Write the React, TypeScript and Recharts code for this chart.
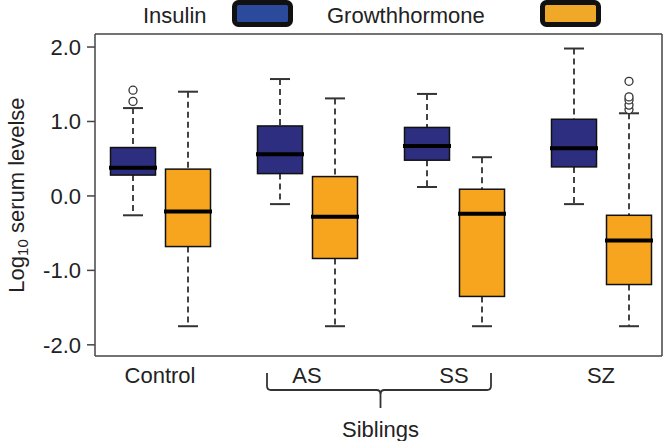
import { ComposedChart, Bar, XAxis, YAxis, Legend } from "recharts"

// groups on the x axis
const groups = ["Control", "AS", "SS", "SZ"]

// Insulin, log10 serum level: whiskers, quartiles, median, outliers
const insulinMin = [-0.26, -0.11, 0.12, -0.11]
const insulinQ1 = [0.28, 0.3, 0.48, 0.39]
const insulinMedian = [0.38, 0.56, 0.67, 0.64]
const insulinQ3 = [0.65, 0.94, 0.92, 1.03]
const insulinMax = [1.18, 1.57, 1.37, 1.98]
const insulinOutliers = [[1.27, 1.42], [], [], []]

// Growth hormone
const ghMin = [-1.75, -1.75, -1.75, -1.75]
const ghQ1 = [-0.68, -0.84, -1.35, -1.19]
const ghMedian = [-0.21, -0.28, -0.24, -0.6]
const ghQ3 = [0.36, 0.26, 0.09, -0.26]
const ghMax = [1.4, 1.31, 0.52, 1.11]
const ghOutliers = [[], [], [], [1.16, 1.22, 1.29, 1.33, 1.54]]

const yTicks = [-2, -1, 0, 1, 2]

const INSULIN = "#2d2e80"
const GH = "#f7a51f"
const FONT = "'Liberation Sans', Arial, Helvetica, sans-serif"

const W = 667
const H = 441
const PLOT_W = 567
const PAD_L = -8.5
const PAD_R = -12.5
const BAND = (PLOT_W - PAD_L - PAD_R) / groups.length

const data = groups.map((group, i) => ({
  group,
  insulin: [insulinMin[i], insulinMax[i]],
  insulinBox: { min: insulinMin[i], q1: insulinQ1[i], median: insulinMedian[i], q3: insulinQ3[i], max: insulinMax[i], outliers: insulinOutliers[i] },
  gh: [ghMin[i], ghMax[i]],
  ghBox: { min: ghMin[i], q1: ghQ1[i], median: ghMedian[i], q3: ghQ3[i], max: ghMax[i], outliers: ghOutliers[i] },
}))

// the bar spans min..max, so its y/height give the scale for the rest of the box
const makeBoxShape = (key: "insulinBox" | "ghBox", fill: string) => (props: any) => {
  const { x, y, width, height, payload } = props
  const b = payload[key]
  const top = Math.min(y, y + height)
  const bottom = Math.max(y, y + height)
  const toY = (v: number) => top + ((b.max - v) / (b.max - b.min)) * (bottom - top)
  const cx = x + width / 2
  const cap = 10
  return (
    <g>
      <line x1={cx} x2={cx} y1={toY(b.max)} y2={toY(b.q3)} stroke="#444" strokeWidth={2} strokeDasharray="6 4" />
      <line x1={cx} x2={cx} y1={toY(b.q1)} y2={toY(b.min)} stroke="#444" strokeWidth={2} strokeDasharray="6 4" />
      <line x1={cx - cap} x2={cx + cap} y1={toY(b.max)} y2={toY(b.max)} stroke="#333" strokeWidth={2} />
      <line x1={cx - cap} x2={cx + cap} y1={toY(b.min)} y2={toY(b.min)} stroke="#333" strokeWidth={2} />
      <rect x={x} y={toY(b.q3)} width={width} height={toY(b.q1) - toY(b.q3)} fill={fill} stroke="#111" strokeWidth={1.5} />
      <line x1={x - 1.5} x2={x + width + 1.5} y1={toY(b.median)} y2={toY(b.median)} stroke="#000" strokeWidth={4} />
      {b.outliers.map((o: number, i: number) => (
        <circle key={i} cx={cx} cy={toY(o)} r={4} fill="#fff" stroke="#333" strokeWidth={1.3} />
      ))}
    </g>
  )
}

const insulinShape = makeBoxShape("insulinBox", INSULIN)
const ghShape = makeBoxShape("ghBox", GH)

const GroupTick = (props: any) => {
  const { x, y, payload } = props
  const label = payload.value
  const half = BAND / 2
  return (
    <g>
      <text x={x} y={y + 27} textAnchor="middle" fontSize={22} fill="#222">
        {label}
      </text>
      {label === "AS" && (
        <path
          d={`M${x - 40},${y + 17} L${x - 40},${y + 30} Q${x - 40},${y + 34} ${x - 36},${y + 34} L${x + half - 4},${y + 34} Q${x + half},${y + 34} ${x + half},${y + 38} L${x + half},${y + 52}`}
          fill="none"
          stroke="#333"
          strokeWidth={1.8}
        />
      )}
      {label === "SS" && (
        <g>
          <path
            d={`M${x - half},${y + 38} Q${x - half},${y + 34} ${x - half + 4},${y + 34} L${x + 33},${y + 34} Q${x + 37},${y + 34} ${x + 37},${y + 30} L${x + 37},${y + 17}`}
            fill="none"
            stroke="#333"
            strokeWidth={1.8}
          />
          <text x={x - half} y={y + 81} textAnchor="middle" fontSize={22} fill="#222">
            Siblings
          </text>
        </g>
      )}
    </g>
  )
}

const YLabel = (props: any) => {
  const { viewBox } = props
  const cx = viewBox.x + 16
  const cy = viewBox.y + viewBox.height / 2
  return (
    <text x={cx} y={cy} transform={`rotate(-90, ${cx}, ${cy})`} textAnchor="middle" dominantBaseline="central" fontSize={22} fill="#222">
      Log
      <tspan fontSize={15} dy={6}>
        10
      </tspan>
      <tspan dy={-6}> serum levelse</tspan>
    </text>
  )
}

const LegendContent = () => (
  <svg width={W} height={30} style={{ display: "block" }}>
    <text x={143} y={23} fontSize={22} fill="#222" fontFamily={FONT}>
      Insulin
    </text>
    <rect x={234.5} y={2.5} width={56} height={22} rx={4} fill="#2b4a9b" stroke="#111" strokeWidth={5} />
    <text x={327} y={23} fontSize={22} fill="#222" fontFamily={FONT}>
      Growthhormone
    </text>
    <rect x={542.5} y={2.5} width={56} height={22} rx={4} fill="#f0a828" stroke="#111" strokeWidth={5} />
  </svg>
)

export default function App() {
  const frame = { stroke: "#444", strokeWidth: 1.5 }
  return (
    <div style={{ position: "absolute", left: 0, top: 0, width: W, height: H, background: "#fff", fontFamily: FONT }}>
      <ComposedChart width={W} height={H} data={data} margin={{ top: 3, right: 4, bottom: 55, left: 0 }} barGap={10}>
        <Legend verticalAlign="top" content={() => <LegendContent />} wrapperStyle={{ top: 0, left: 0, width: W, height: 30 }} />
        <XAxis
          dataKey="group"
          interval={0}
          height={30}
          padding={{ left: PAD_L, right: PAD_R }}
          tickSize={0}
          tickMargin={0}
          tickLine={false}
          axisLine={frame}
          tick={<GroupTick />}
        />
        <XAxis xAxisId="frame" dataKey="group" orientation="top" height={1} tick={false} tickLine={false} axisLine={frame} />
        <YAxis
          type="number"
          domain={[-2.15, 2.175]}
          ticks={yTicks}
          allowDataOverflow
          width={95}
          tickSize={8}
          tickMargin={6}
          tick={{ fontSize: 22, fill: "#222" }}
          tickLine={frame}
          axisLine={frame}
          tickFormatter={(v: number) => v.toFixed(1)}
          label={<YLabel />}
        />
        <YAxis yAxisId="frame" type="number" domain={[-2.15, 2.175]} orientation="right" width={1} tick={false} tickLine={false} axisLine={frame} />
        <Bar dataKey="insulin" name="Insulin" fill={INSULIN} barSize={45} shape={insulinShape} isAnimationActive={false} />
        <Bar dataKey="gh" name="Growthhormone" fill={GH} barSize={45} shape={ghShape} isAnimationActive={false} />
      </ComposedChart>
    </div>
  )
}
